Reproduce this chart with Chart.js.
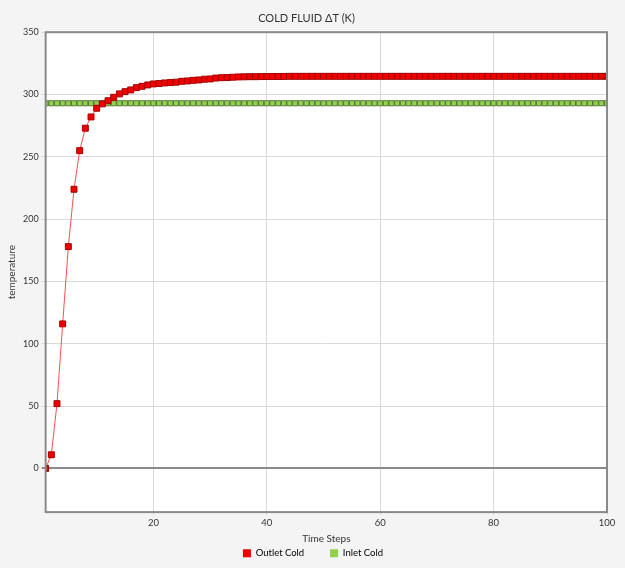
<!DOCTYPE html>
<html>
<head>
<meta charset="utf-8">
<title>Cold Fluid</title>
<script src="https://cdn.jsdelivr.net/npm/chart.js@4"></script>
<style>
  html, body { margin: 0; padding: 0; background: #f4f4f4; }
  #wrap { position: relative; width: 625px; height: 568px; }
</style>
</head>
<body>
<div id="wrap"><canvas id="chart"></canvas></div>
<script>
const timeSteps = [
  1, 2, 3, 4, 5, 6, 7, 8, 9, 10, 11, 12, 13, 14, 15, 16, 17, 18, 19, 20,
  21, 22, 23, 24, 25, 26, 27, 28, 29, 30, 31, 32, 33, 34, 35, 36, 37, 38, 39, 40,
  41, 42, 43, 44, 45, 46, 47, 48, 49, 50, 51, 52, 53, 54, 55, 56, 57, 58, 59, 60,
  61, 62, 63, 64, 65, 66, 67, 68, 69, 70, 71, 72, 73, 74, 75, 76, 77, 78, 79, 80,
  81, 82, 83, 84, 85, 86, 87, 88, 89, 90, 91, 92, 93, 94, 95, 96, 97, 98, 99, 100
];

const outletCold = [
  0, 11, 52, 116, 178, 224, 255, 273, 282, 289,
  292.5, 295, 297.8, 300.5, 302.3, 303.7, 305.5, 306.6, 307.7, 308.5,
  308.8, 309.3, 309.6, 309.9, 310.6, 310.9, 311.4, 311.7, 312.3, 312.5,
  313.2, 313.5, 313.6, 313.9, 314.1, 314.2, 314.3, 314.3, 314.4, 314.4,
  314.5, 314.5, 314.5, 314.6, 314.6, 314.6, 314.6, 314.6, 314.6, 314.6,
  314.6, 314.6, 314.6, 314.6, 314.6, 314.6, 314.6, 314.6, 314.6, 314.6,
  314.6, 314.6, 314.6, 314.6, 314.6, 314.6, 314.6, 314.6, 314.6, 314.6,
  314.6, 314.6, 314.6, 314.6, 314.6, 314.6, 314.6, 314.6, 314.6, 314.6,
  314.6, 314.6, 314.6, 314.6, 314.6, 314.6, 314.6, 314.6, 314.6, 314.6,
  314.6, 314.6, 314.6, 314.6, 314.6, 314.6, 314.6, 314.6, 314.6, 314.6
];

const inletCold = [
  293, 293, 293, 293, 293, 293, 293, 293, 293, 293,
  293, 293, 293, 293, 293, 293, 293, 293, 293, 293,
  293, 293, 293, 293, 293, 293, 293, 293, 293, 293,
  293, 293, 293, 293, 293, 293, 293, 293, 293, 293,
  293, 293, 293, 293, 293, 293, 293, 293, 293, 293,
  293, 293, 293, 293, 293, 293, 293, 293, 293, 293,
  293, 293, 293, 293, 293, 293, 293, 293, 293, 293,
  293, 293, 293, 293, 293, 293, 293, 293, 293, 293,
  293, 293, 293, 293, 293, 293, 293, 293, 293, 293,
  293, 293, 293, 293, 293, 293, 293, 293, 293, 293
];

const xTicks = [20, 40, 60, 80, 100];
const yTicks = [0, 50, 100, 150, 200, 250, 300, 350];

const FONT = "Lato, sans-serif";

// white plot area + dark frame round it
const framePlugin = {
  id: "frame",
  beforeDraw(chart) {
    const { ctx, chartArea: a } = chart;
    ctx.save();
    ctx.fillStyle = "#ffffff";
    ctx.fillRect(a.left, a.top, a.right - a.left, a.bottom - a.top);
    ctx.restore();
  },
  afterDatasetsDraw(chart) {
    const { ctx, chartArea: a } = chart;
    ctx.save();
    ctx.strokeStyle = "#8a8a8a";
    ctx.lineWidth = 2;
    ctx.strokeRect(a.left, a.top, a.right - a.left, a.bottom - a.top);
    ctx.restore();
  }
};

const pairs = (ys) => ys.map((y, i) => ({ x: timeSteps[i], y }));

new Chart(document.getElementById("chart").getContext("2d"), {
  type: "line",
  data: {
    datasets: [
      {
        label: "Outlet Cold",
        data: pairs(outletCold),
        borderColor: "#ff5050",
        borderWidth: 1,
        backgroundColor: "#ee0000",
        pointStyle: "rect",
        pointRadius: 4.2,
        pointBorderColor: "#a30000",
        pointBorderWidth: 1,
        pointBackgroundColor: "#ee0000"
      },
      {
        label: "Inlet Cold",
        data: pairs(inletCold),
        borderColor: "#6a9a3a",
        borderWidth: 1,
        backgroundColor: "#92d050",
        pointStyle: "rect",
        pointRadius: 3.6,
        pointBorderColor: "#567a36",
        pointBorderWidth: 1,
        pointBackgroundColor: "#92d050"
      }
    ]
  },
  options: {
    responsive: true,
    maintainAspectRatio: false,
    animation: false,
    layout: { padding: { left: 6, right: 18, top: 0, bottom: 0 } },
    scales: {
      x: {
        type: "linear",
        min: 1,
        max: 100,
        afterBuildTicks: axis => { axis.ticks = xTicks.map(v => ({ value: v })); },
        grid: { color: "#d9d9d9", tickLength: 3 },
        border: { display: false },
        ticks: { color: "#333", padding: 2, maxRotation: 0, font: { family: FONT, size: 9.5 } },
        title: {
          display: true,
          text: "Time Steps",
          color: "#333",
          padding: { top: 2, bottom: 0 },
          font: { family: FONT, size: 10 }
        }
      },
      y: {
        min: -35,
        max: 350,
        afterBuildTicks: axis => { axis.ticks = yTicks.map(v => ({ value: v })); },
        grid: {
          color: c => (c.tick && c.tick.value === 0 ? "#8a8a8a" : "#d9d9d9"),
          lineWidth: c => (c.tick && c.tick.value === 0 ? 2 : 1),
          tickLength: 4
        },
        border: { display: false },
        ticks: { color: "#333", padding: 3, font: { family: FONT, size: 9 } },
        title: {
          display: true,
          text: "temperature",
          color: "#333",
          padding: { top: 0, bottom: 2 },
          font: { family: FONT, size: 10 }
        }
      }
    },
    plugins: {
      title: {
        display: true,
        text: "COLD FLUID ΔT (K)",
        color: "#333",
        padding: { top: 12, bottom: 7 },
        font: { family: FONT, size: 11, weight: "normal" }
      },
      legend: {
        position: "bottom",
        fullSize: false,
        labels: {
          color: "#333",
          boxWidth: 8,
          boxHeight: 8,
          padding: 4,
          font: { family: FONT, size: 9.5 },
          // trailing spaces widen the gap between entries and nudge the row right
          generateLabels: chart => chart.data.datasets.map((ds, i) => ({
            text: ds.label + (i === 0 ? "         " : "           "),
            fillStyle: ds.pointBackgroundColor,
            strokeStyle: ds.pointBackgroundColor,
            lineWidth: 0,
            datasetIndex: i,
            hidden: !chart.isDatasetVisible(i)
          }))
        }
      },
      tooltip: { enabled: false }
    }
  },
  plugins: [framePlugin]
});
</script>
</body>
</html>
